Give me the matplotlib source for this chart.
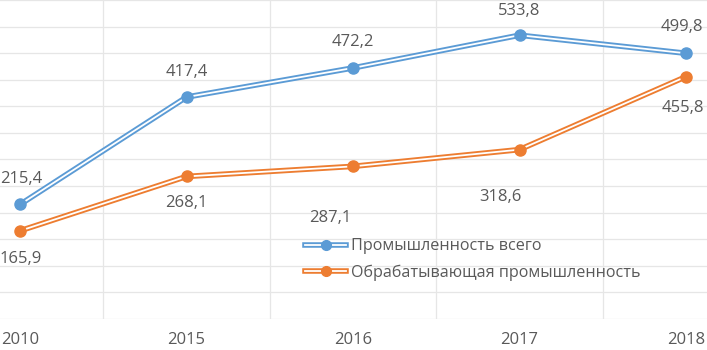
import matplotlib
matplotlib.use("Agg")
import matplotlib.pyplot as plt
from matplotlib.lines import Line2D
from matplotlib.legend_handler import HandlerTuple
import numpy as np

years = ["2010", "2015", "2016", "2017", "2018"]
industry_total = [215.4, 417.4, 472.2, 533.8, 499.8]
manufacturing = [165.9, 268.1, 287.1, 318.6, 455.8]
series_names = ["Промышленность всего", "Обрабатывающая промышленность"]

# label offsets in pixels (dx, dy up)
total_offsets = [(1, 25), (0, 25), (0, 26), (0, 24), (-4, 26)]
manuf_offsets = [(1, -28), (0, -27), (-23, -52), (-19, -47), (-3, -31)]

BLUE = "#5B9BD5"
ORANGE = "#ED7D31"
TEXT = "#595959"
GRID = "#E6E6E6"

plt.rcParams['font.family'] = ['Open Sans', 'DejaVu Sans']

fig = plt.figure(figsize=(7.07, 3.5), dpi=100)
ax = fig.add_axes([0, 31 / 350, 1, 319 / 350])

x = np.arange(len(years))
px_per_unit = 166.5
ax.set_xlim(-20 / px_per_unit, 4 + 21 / px_per_unit)
ax.set_ylim(0, 600)

ax.set_yticks(np.arange(0, 601, 50))
ax.set_yticklabels([])
ax.set_xticks(x)
ax.set_xticklabels(years)
ax.set_xticks(x[:-1] + 0.5, minor=True)
ax.tick_params(axis='both', length=0, which='both')
ax.tick_params(axis='x', colors=TEXT, labelsize=12, pad=9)
ax.grid(axis='y', which='major', color=GRID, lw=0.9)
ax.grid(axis='x', which='minor', color=GRID, lw=0.9)
for s in ax.spines.values():
    s.set_visible(False)
ax.set_axisbelow(True)

handles = []
for vals, color, offs, name in [(industry_total, BLUE, total_offsets, series_names[0]),
                                (manufacturing, ORANGE, manuf_offsets, series_names[1])]:
    ax.plot(x, vals, color=color, lw=4.0, solid_capstyle='butt', zorder=3)
    ax.plot(x, vals, color='white', lw=1.3, solid_capstyle='butt', zorder=4)
    ax.plot(x, vals, ls='none', marker='o', ms=8, color=color, zorder=5)
    for xi, v, (dx, dy) in zip(x, vals, offs):
        ax.annotate(f"{v:.1f}".replace('.', ','), (xi, v),
                    xytext=(dx * 0.72, dy * 0.72), textcoords='offset points',
                    ha='center', va='center', fontsize=12, color=TEXT, zorder=6)
    h = (Line2D([], [], color=color, lw=4.0),
         Line2D([], [], color='white', lw=1.3),
         Line2D([], [], ls='none', marker='o', ms=7, color=color))
    handles.append(h)

leg = ax.legend(handles, series_names, handler_map={tuple: HandlerTuple(ndivide=1, pad=0)},
                loc='upper left', bbox_to_anchor=(299 / 707, 1 - 232 / 319),
                frameon=False, fontsize=11.6, labelcolor=TEXT, handlelength=2.5,
                handletextpad=0.3, labelspacing=0.62, borderaxespad=0)

fig.savefig("out.png", dpi=100)
